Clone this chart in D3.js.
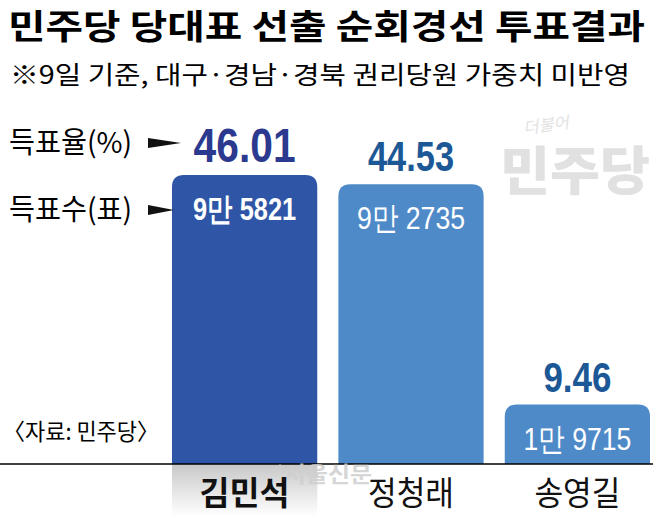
<!DOCTYPE html>
<meta charset="utf-8">
<script src="https://d3js.org/d3.v7.min.js"></script>
<style>
body { margin: 0; background: #fff; }
text { font-family: "Noto Sans CJK KR", "Noto Sans", sans-serif; }
.num { font-family: "Liberation Sans", "Roboto", sans-serif; }
</style>
<div id="main"></div>
<script>
// data
const candidates = ["김민석", "정청래", "송영길"];
const rates = [46.01, 44.53, 9.46];
const votes = ["9만 5821", "9만 2735", "1만 9715"];
const rateColors = ["#2b3a8f", "#1c5796", "#1c5796"];
const barColors = ["#2f56a6", "#4f8ac8", "#4f8ac8"];

const width = 653, height = 516;
const baseY = 464;

const svg = d3.select("#main").append("svg")
    .attr("width", width)
    .attr("height", height);

const defs = svg.append("defs");
const grad = defs.append("linearGradient")
    .attr("id", "shade").attr("x1", 0).attr("y1", 0).attr("x2", 0).attr("y2", 1);
grad.append("stop").attr("offset", "0%").attr("stop-color", "#c8c8c8");
grad.append("stop").attr("offset", "100%").attr("stop-color", "#ffffff");

let x = d3.scaleBand()
    .domain(candidates)
    .range([172, 650])
    .paddingInner(0.127)
    .paddingOuter(0);

let y = d3.scaleLinear()
    .domain([0, 46.01])
    .range([baseY, 175]);

// title
svg.append("text")
    .attr("x", 8).attr("y", 39)
    .attr("font-size", 34).attr("font-weight", 700)
    .attr("textLength", 637).attr("lengthAdjust", "spacingAndGlyphs")
    .text("민주당 당대표 선출 순회경선 투표결과");

svg.append("text")
    .attr("x", 10).attr("y", 84)
    .attr("font-size", 25)
    .attr("textLength", 620).attr("lengthAdjust", "spacingAndGlyphs")
    .text("※9일 기준, 대구·경남·경북 권리당원 가중치 미반영");

// party logo (watermark-like)
svg.append("text")
    .attr("transform", "translate(524,134) rotate(-8)")
    .attr("font-size", 16).attr("fill", "#e2e2e2")
    .attr("font-style", "italic")
    .attr("textLength", 46).attr("lengthAdjust", "spacingAndGlyphs")
    .text("더불어");
svg.append("text")
    .attr("x", 500).attr("y", 190)
    .attr("font-size", 52).attr("font-weight", 900).attr("fill", "#e1e1e1")
    .attr("textLength", 150).attr("lengthAdjust", "spacingAndGlyphs")
    .text("민주당");

// shade under winner label
svg.append("rect")
    .attr("x", x(candidates[0])).attr("y", baseY)
    .attr("width", x.bandwidth()).attr("height", height - baseY)
    .attr("fill", "url(#shade)");

// bars with rounded tops
const r = 12;
function barPath(d, i) {
  const x0 = x(candidates[i]), x1 = x0 + x.bandwidth(), top = y(d);
  return "M" + x0 + "," + baseY +
    "V" + (top + r) +
    "Q" + x0 + "," + top + " " + (x0 + r) + "," + top +
    "H" + (x1 - r) +
    "Q" + x1 + "," + top + " " + x1 + "," + (top + r) +
    "V" + baseY + "Z";
}

svg.append("g").selectAll("path")
    .data(rates)
    .join("path")
    .attr("d", barPath)
    .attr("fill", (d, i) => barColors[i]);

// rate labels (condensed)
const rateW = [102, 86, 68];
svg.append("g").selectAll("text")
    .data(rates)
    .join("text")
    .attr("class", "num")
    .attr("x", (d, i) => x(candidates[i]) + x.bandwidth() / 2)
    .attr("y", d => y(d) - 13)
    .attr("text-anchor", "middle")
    .attr("font-size", (d, i) => i === 0 ? 48 : 42)
    .attr("font-weight", 700)
    .attr("fill", (d, i) => rateColors[i])
    .attr("textLength", (d, i) => rateW[i]).attr("lengthAdjust", "spacingAndGlyphs")
    .text(d => d.toFixed(2));

// vote labels
const voteW = [103, 108, 108];
svg.append("g").selectAll("text")
    .data(votes)
    .join("text")
    .attr("class", "num")
    .attr("x", (d, i) => x(candidates[i]) + x.bandwidth() / 2)
    .attr("y", (d, i) => y(rates[i]) + 45)
    .attr("text-anchor", "middle")
    .attr("font-size", 32)
    .attr("font-weight", (d, i) => i === 0 ? 700 : 400)
    .attr("fill", "#fff")
    .attr("textLength", (d, i) => voteW[i]).attr("lengthAdjust", "spacingAndGlyphs")
    .text(d => d);

// baseline
svg.append("line")
    .attr("x1", 0).attr("x2", width)
    .attr("y1", baseY).attr("y2", baseY)
    .attr("stroke", "#000").attr("stroke-width", 1.5);

// newspaper watermark (sits behind the labels)
svg.append("text")
    .attr("x", 276).attr("y", 482)
    .attr("font-size", 22).attr("font-weight", 700)
    .attr("fill", "#cfcfcf").attr("opacity", 0.85)
    .attr("textLength", 96).attr("lengthAdjust", "spacingAndGlyphs")
    .text("’서울신문");

// category labels
svg.append("g").selectAll("text")
    .data(candidates)
    .join("text")
    .attr("x", d => x(d) + x.bandwidth() / 2)
    .attr("y", 505)
    .attr("text-anchor", "middle")
    .attr("font-size", 33)
    .attr("font-weight", (d, i) => i === 0 ? 700 : 400)
    .attr("fill", "#111")
    .attr("textLength", (d, i) => i === 0 ? 90 : 86).attr("lengthAdjust", "spacingAndGlyphs")
    .text(d => d);

// legend
const legend = [
  {label: "득표율(%)", y: 143, x1: 148, x2: 181},
  {label: "득표수(표)", y: 210, x1: 148, x2: 174}
];
const lg = svg.append("g").selectAll("g").data(legend).join("g");
lg.append("text")
    .attr("x", 9).attr("y", d => d.y + 10)
    .attr("font-size", 29)
    .attr("textLength", 123).attr("lengthAdjust", "spacingAndGlyphs")
    .text(d => d.label);
lg.append("path")
    .attr("d", d => "M" + d.x1 + "," + (d.y - 5) + "L" + d.x2 + "," + d.y + "L" + d.x1 + "," + (d.y + 5) + "Z")
    .attr("fill", "#111");

// source
svg.append("text")
    .attr("x", 3).attr("y", 440)
    .attr("font-size", 23)
    .attr("textLength", 156).attr("lengthAdjust", "spacingAndGlyphs")
    .text("〈자료: 민주당〉");
</script>
